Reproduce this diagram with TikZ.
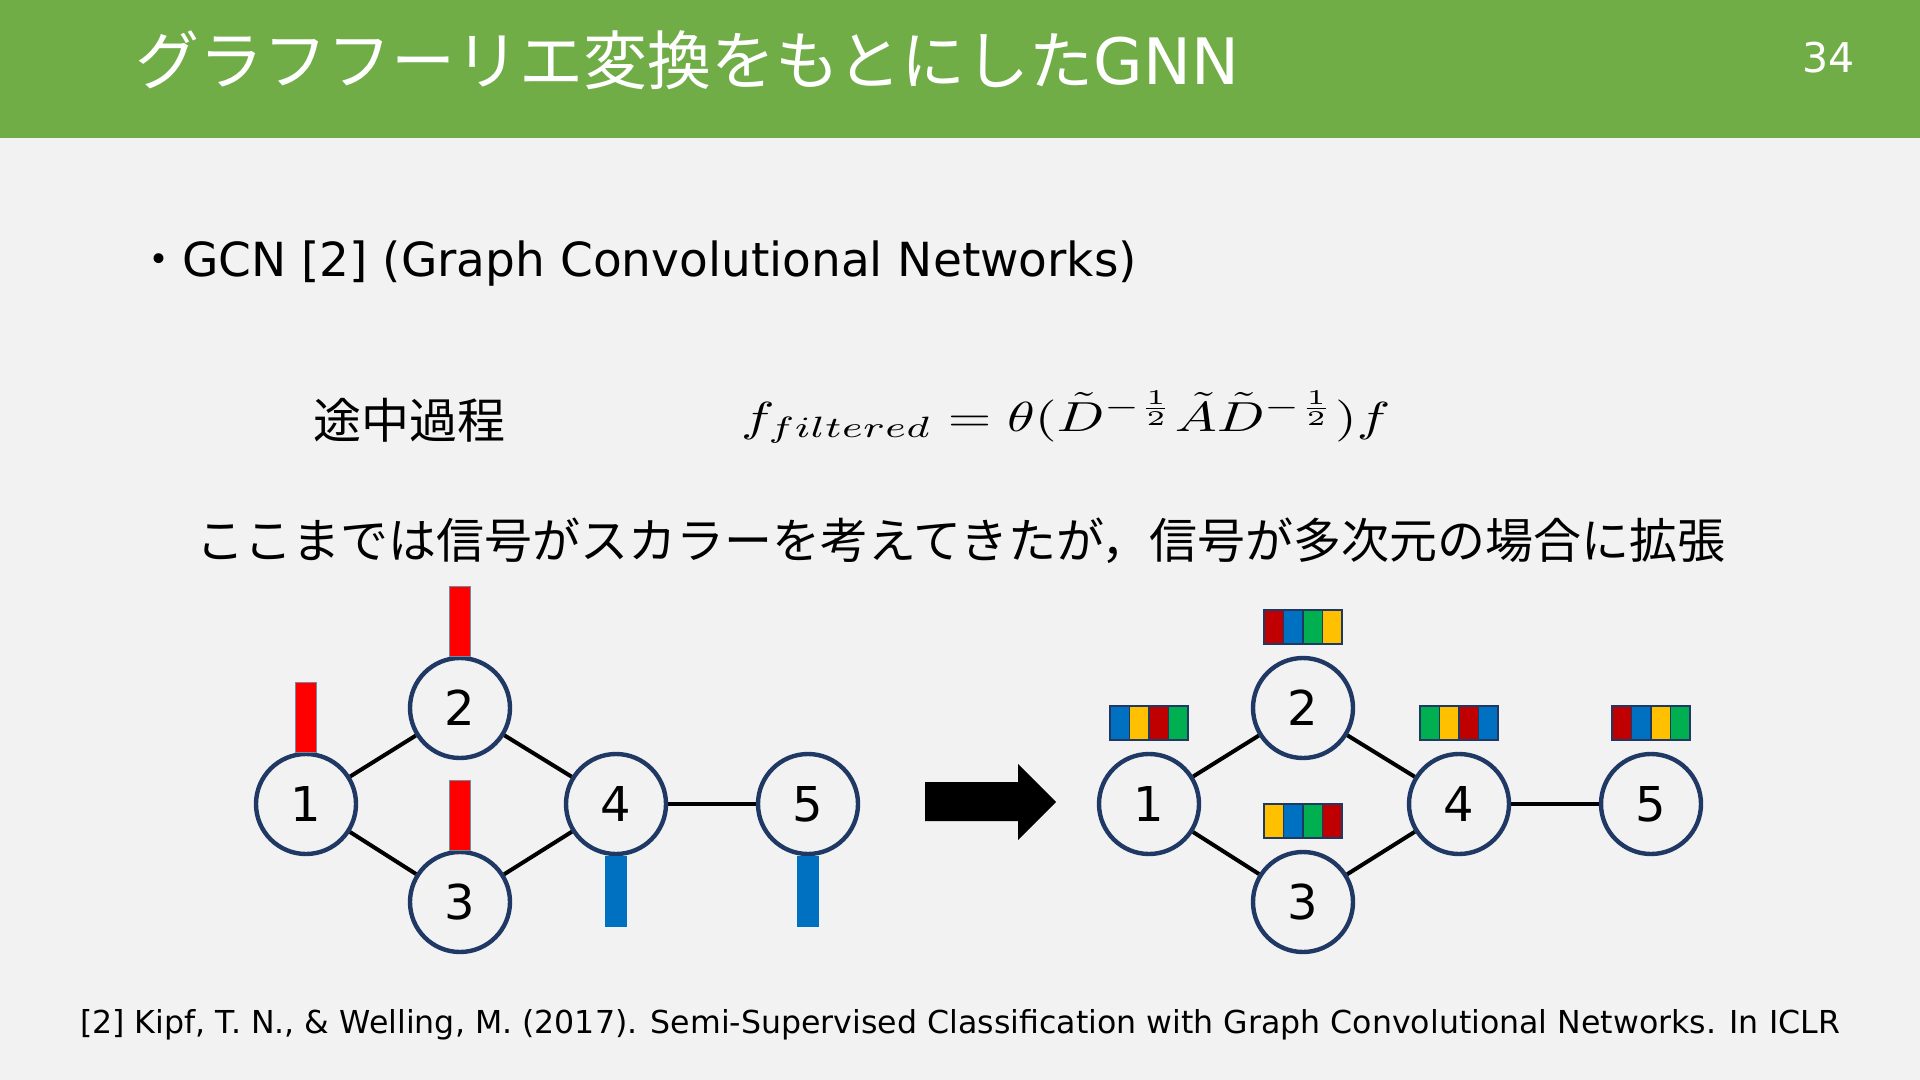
\documentclass[tikz,border=0pt]{standalone}
\usepackage[no-math]{fontspec}
\usepackage{amsmath}
\usepackage{graphicx}
\setmainfont{DejaVu Sans}
\newfontfamily\jpfont{Noto Sans CJK JP}
\usetikzlibrary{positioning}

\definecolor{bgcol}{HTML}{F2F2F2}
\definecolor{headgreen}{HTML}{70AD47}
\definecolor{navy}{HTML}{203864}
\definecolor{barred}{HTML}{FF0000}
\definecolor{barblue}{HTML}{0070C0}
\definecolor{cred}{HTML}{C00000}
\definecolor{cblue}{HTML}{0070C0}
\definecolor{cgreen}{HTML}{00B050}
\definecolor{cyellow}{HTML}{FFC000}

\begin{document}
\begin{tikzpicture}[x=0.5pt, y=-0.5pt,
    every node/.style={inner sep=0pt, outer sep=0pt},
    vnode/.style={circle, draw=navy, line width=2.2pt, outer sep=1.1pt, minimum size=50pt,
        font=\fontsize{24}{28}\selectfont},
    edge/.style={line width=2pt, black},
    sbar/.style={draw=navy!60, line width=0.3pt, minimum width=10.5pt, minimum height=35pt},
    cell/.style={draw=navy, line width=0.7pt, minimum width=9.75pt, minimum height=17pt}]
    \useasboundingbox (0,0) rectangle (1920,1080);
    \fill[bgcol] (0,0) rectangle (1920,1080);
    \fill[headgreen] (0,0) rectangle (1920,138);

    % header and texts
    \node[anchor=base west, text=white, font=\fontsize{32}{38}\selectfont] (title) at (135,85)
        {{\jpfont グラフフーリエ変換をもとにした}GNN};
    \node[anchor=base east, text=white, font=\fontsize{20.5}{24}\selectfont] (pageno) at (1855,73) {34};
    \node[anchor=base west, font=\fontsize{23.5}{28}\selectfont] (bullet) at (135,277)
        {{\jpfont ・}GCN [2] (Graph Convolutional Networks)};
    \node[anchor=west, font=\fontsize{24}{28}\selectfont\jpfont] (midstep) at (313,420) {途中過程};
    \node[anchor=base west] (formula) at (741,431)
        {\scalebox{2.8}[2.1]{$f_{filtered} = \theta(\tilde{D}^{-\frac{1}{2}}\tilde{A}\tilde{D}^{-\frac{1}{2}})f$}};
    \node[anchor=west, font=\fontsize{24}{28}\selectfont\jpfont] (extend) at (196,541)
        {ここまでは信号がスカラーを考えてきたが，信号が多次元の場合に拡張};
    \node[anchor=base west, font=\fontsize{15.8}{19}\selectfont] (cite) at (80,1033)
        {[2] Kipf, T. N., \& Welling, M. (2017). Semi-Supervised Classification with Graph Convolutional Networks. In ICLR};

    % graphs: scalar signals (L) and vector signals (R)
    \foreach \g/\dx in {L/0,R/843} {
        \node[vnode] (\g1) at (306+\dx,804) {1};
        \node[vnode] (\g2) at (460+\dx,708) {2};
        \node[vnode] (\g3) at (460+\dx,902) {3};
        \node[vnode] (\g4) at (616+\dx,804) {4};
        \node[vnode] (\g5) at (808+\dx,804) {5};
        \draw[edge] (\g1) -- (\g2);
        \draw[edge] (\g1) -- (\g3);
        \draw[edge] (\g2) -- (\g4);
        \draw[edge] (\g3) -- (\g4);
        \draw[edge] (\g4) -- (\g5);
    }

    \foreach \n in {L1,L2,L3}
        \node[sbar, fill=barred, anchor=south] (\n-bar) at (\n.north) {};
    \foreach \n in {L4,L5}
        \node[sbar, fill=barblue, draw=barblue, anchor=north] (\n-bar) at (\n.south) {};

    \foreach \n/\ca/\cb/\cc/\cd in {R1/cblue/cyellow/cred/cgreen, R2/cred/cblue/cgreen/cyellow,
            R3/cyellow/cblue/cgreen/cred, R4/cgreen/cyellow/cred/cblue, R5/cred/cblue/cyellow/cgreen} {
        \node[cell, fill=\cb, anchor=south east] (\n-b) at ([yshift=6pt]\n.north) {};
        \node[cell, fill=\ca, left=0pt of \n-b] (\n-a) {};
        \node[cell, fill=\cc, right=0pt of \n-b] (\n-c) {};
        \node[cell, fill=\cd, right=0pt of \n-c] (\n-d) {};
    }

    % block arrow between the graphs
    \fill[black] (925,782) -- (1018,782) -- (1018,764) -- (1056,802) -- (1018,840)
        -- (1018,821) -- (925,821) -- cycle;
\end{tikzpicture}
\end{document}
